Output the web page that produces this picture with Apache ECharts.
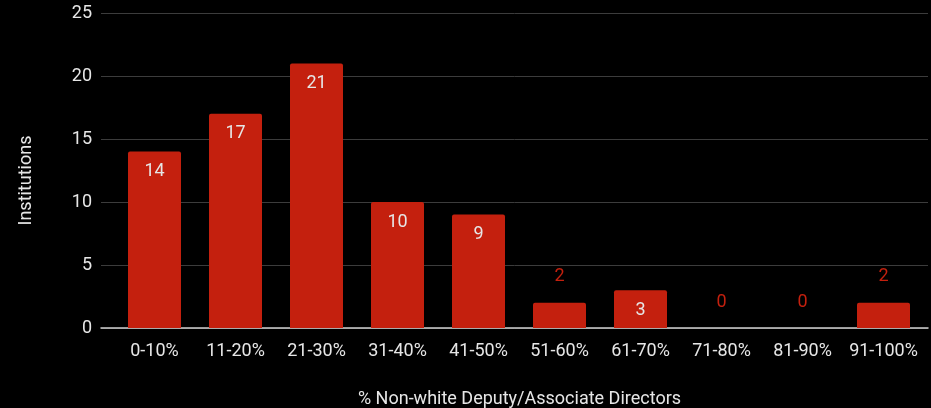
<!DOCTYPE html>
<html><head><meta charset="utf-8">
<script src="https://cdn.jsdelivr.net/npm/echarts@6/dist/echarts.min.js"></script>
<style>html,body{margin:0;padding:0;background:#000;}#c{width:931px;height:408px;}</style>
</head><body><div id="c"></div>
<script>
const categories = ['0-10%','11-20%','21-30%','31-40%','41-50%','51-60%','61-70%','71-80%','81-90%','91-100%'];
const institutions = [14,17,21,10,9,2,3,0,0,2];
const yTicks = [0,5,10,15,20,25];

const barColor = '#c4200e';
const textColor = '#e6e6e6';
const font = 'Roboto';

const seriesData = institutions.map(v => ({
  value: v,
  label: v >= 3
    ? {position: 'insideTop', distance: 11, color: textColor}
    : {position: 'top', distance: 17, color: barColor}
}));

const chart = echarts.init(document.getElementById('c'));
chart.setOption({
  backgroundColor: '#000',
  animation: false,
  textStyle: {fontFamily: font},
  grid: [
    {left: 101, right: 3, top: 13, bottom: 80, containLabel: false, outerBoundsMode: 'none'},
    {left: 114, right: 7, top: 13, bottom: 80, containLabel: false, outerBoundsMode: 'none'}
  ],
  xAxis: [
    {gridIndex: 0, type: 'value', min: 0, max: 1, show: true,
     axisLine: {show: true, onZero: false, lineStyle: {color: '#d0d0d0', width: 1.5}},
     axisTick: {show: false}, axisLabel: {show: false}, splitLine: {show: false},
     name: '% Non-white Deputy/Associate Directors', nameLocation: 'middle', nameGap: 62,
     nameTextStyle: {color: textColor, fontSize: 18, fontFamily: font, padding: [0, 0, 0, 10]}},
    {gridIndex: 1, type: 'category', data: categories,
     axisLine: {show: false}, axisTick: {show: false},
     axisLabel: {color: textColor, fontSize: 18, margin: 14, fontFamily: font, interval: 0}}
  ],
  yAxis: [
    {gridIndex: 0, type: 'value', min: yTicks[0], max: yTicks[yTicks.length-1], interval: 5,
     axisLine: {show: false}, axisTick: {show: false},
     axisLabel: {color: textColor, fontSize: 18, margin: 9, fontFamily: font},
     splitLine: {lineStyle: {color: '#3c3c3c', width: 1}},
     name: 'Institutions', nameLocation: 'middle', nameGap: 66,
     nameTextStyle: {color: textColor, fontSize: 18, fontFamily: font, padding: [0, 20, 0, 0]}},
    {gridIndex: 1, type: 'value', min: 0, max: 25, show: false}
  ],
  series: [{
    type: 'bar', xAxisIndex: 1, yAxisIndex: 1,
    data: seriesData, barWidth: 53,
    itemStyle: {color: barColor, borderRadius: [2,2,0,0]},
    label: {show: true, fontSize: 18, fontFamily: font},
    z: 3
  }]
});
</script></body></html>
